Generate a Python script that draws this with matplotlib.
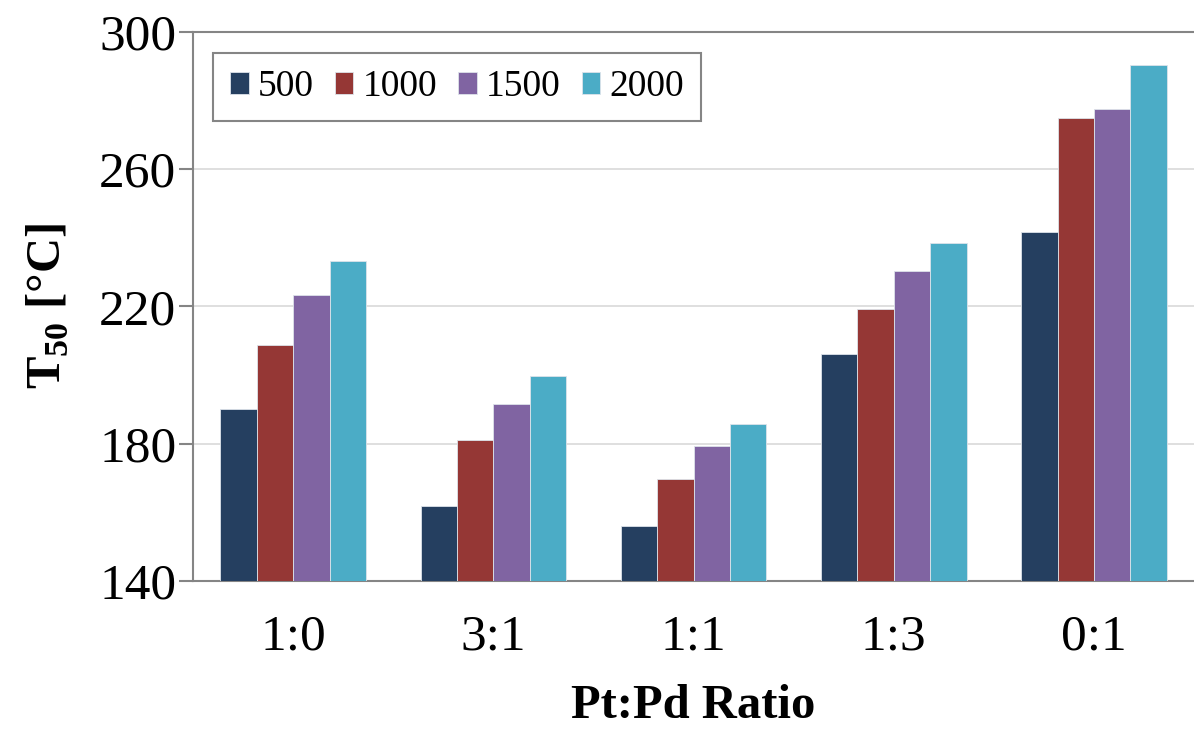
import numpy as np
import matplotlib.pyplot as plt

# Pt:Pd ratio vs T50 at different GHSV
ratios = ['1:0', '3:1', '1:1', '1:3', '0:1']
series_names = ['500', '1000', '1500', '2000']
t50_500 = [190.0, 162.0, 156.0, 206.2, 241.6]
t50_1000 = [208.8, 181.2, 169.8, 219.3, 274.8]
t50_1500 = [223.4, 191.6, 179.2, 230.3, 277.5]
t50_2000 = [233.3, 199.8, 185.9, 238.6, 290.3]
colors = ['#253f60', '#953735', '#8064a2', '#4bacc6']

plt.rcParams['font.family'] = ['Liberation Serif', 'DejaVu Serif']
plt.rcParams['mathtext.fontset'] = 'custom'
plt.rcParams['mathtext.rm'] = 'Liberation Serif'
plt.rcParams['mathtext.bf'] = 'Liberation Serif:bold'

fig = plt.figure(figsize=(11.94, 7.3), dpi=100)
ax = fig.add_axes([193 / 1194, 1 - 581 / 730, 1001 / 1194, 549 / 730])

x = np.arange(len(ratios))
w = 1 / 5.5
all_vals = [t50_500, t50_1000, t50_1500, t50_2000]
for i, (vals, name) in enumerate(zip(all_vals, series_names)):
    ax.bar(x + (i - 1.5) * w, vals, width=w, color=colors[i], label=name,
           edgecolor='#dde3ea', linewidth=0.6, zorder=3)

ax.set_xlim(-0.5, len(ratios) - 0.5)
ax.set_ylim(140, 300)
ax.set_yticks([140, 180, 220, 260, 300])
ax.set_xticks(x)
ax.set_xticklabels(ratios)
ax.grid(axis='y', color='#d9d9d9', linewidth=1.2, zorder=0)

ax.spines['right'].set_visible(False)
for s in ['left', 'bottom', 'top']:
    ax.spines[s].set_color('#858585')
    ax.spines[s].set_linewidth(1.5)

ax.tick_params(axis='y', direction='out', length=10, width=1.5, color='#858585',
               labelsize=37, pad=2)
ax.tick_params(axis='x', length=0, labelsize=37, pad=24)

ax.set_ylabel('T$_{\\mathbf{50}}$ [°C]', fontsize=35, fontweight='bold', labelpad=20)
ax.set_xlabel('Pt:Pd Ratio', fontsize=35, fontweight='bold', labelpad=17)

leg = ax.legend(loc='upper left', bbox_to_anchor=(0.02, 0.962), ncol=4, fontsize=27,
                frameon=True, fancybox=False, edgecolor='#858585', framealpha=1,
                handlelength=0.5, handleheight=0.5, handletextpad=0.25,
                columnspacing=0.55, borderpad=0.45, borderaxespad=0)
leg.get_frame().set_linewidth(1.5)

fig.savefig('out.png', dpi=100)
